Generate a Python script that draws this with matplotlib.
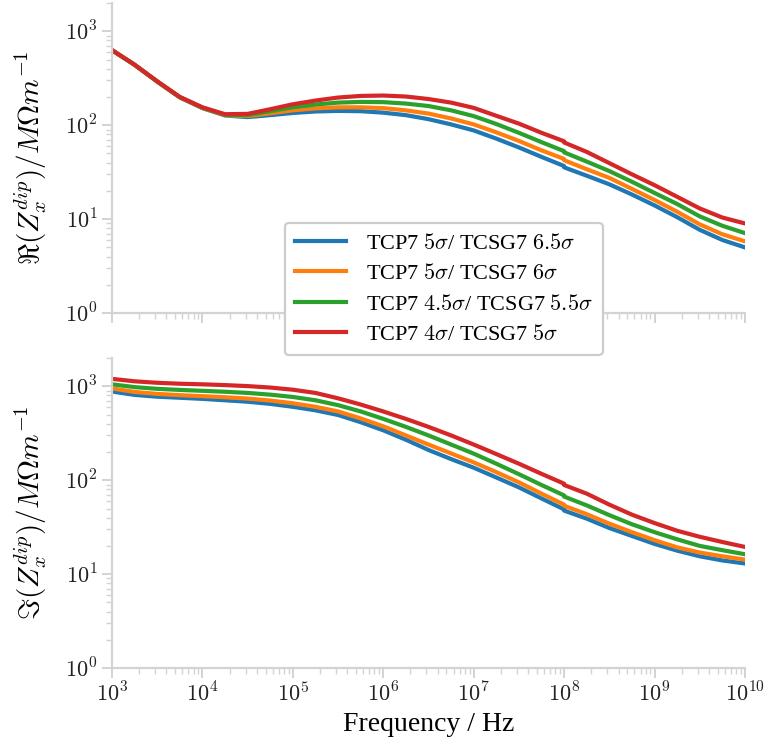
import numpy as np
import matplotlib
matplotlib.use("Agg")
import matplotlib.pyplot as plt
from matplotlib.ticker import FuncFormatter

plt.rcParams['mathtext.fontset'] = 'cm'
plt.rcParams['font.family'] = ['Liberation Serif', 'DejaVu Serif']

# log10 of frequency (Hz); 8.0 appears twice for the small step at 1e8
logf = [3.0, 3.25, 3.5, 3.75, 4.0, 4.25, 4.5, 4.75, 5.0, 5.25, 5.5, 5.75, 6.0,
        6.25, 6.5, 6.75, 7.0, 7.25, 7.5, 7.75, 7.999, 8.0, 8.25, 8.5, 8.75,
        9.0, 9.25, 9.5, 9.75, 10.0]

labels = [r'TCP7 $5\sigma$/ TCSG7 $6.5\sigma$',
          r'TCP7 $5\sigma$/ TCSG7 $6\sigma$',
          r'TCP7 $4.5\sigma$/ TCSG7 $5.5\sigma$',
          r'TCP7 $4\sigma$/ TCSG7 $5\sigma$']
colors = ['#1f77b4', '#ff7f0e', '#2ca02c', '#d62728']

re_blue = [630, 440, 292, 198, 152, 127, 122, 128, 135, 140, 142, 141, 136,
           128, 116, 102, 88, 72, 58, 46, 36.8, 35.6, 29, 23.5, 18.3,
           14.0, 10.5, 7.7, 6.0, 5.0]
re_orange = [630, 440, 292, 198, 153, 128, 125, 134, 144, 151, 155, 155, 152,
             144, 133, 118, 102, 84, 68, 54, 43.8, 42.4, 34, 27.5, 21,
             16.0, 12.0, 8.8, 6.9, 5.8]
re_green = [630, 440, 292, 199, 154, 129, 128, 141, 155, 166, 174, 177, 176,
            170, 160, 144, 125, 103, 83, 66, 53, 51.4, 41, 32.5, 25,
            19.0, 14.5, 10.7, 8.5, 7.1]
re_red = [630, 440, 293, 200, 155, 131, 132, 148, 167, 183, 197, 205, 207,
          202, 190, 174, 153, 126, 104, 83, 67.5, 65.5, 52, 39.5, 30,
          23.0, 17.3, 13.0, 10.4, 9.0]

im_blue = [880, 810, 775, 755, 735, 710, 685, 650, 605, 555, 495, 415, 340,
           270, 210, 168, 136, 107, 84, 64, 49, 47.5, 39, 31, 25.5,
           21, 17.8, 15.5, 14.0, 13.0]
im_orange = [950, 870, 830, 805, 785, 765, 740, 705, 660, 605, 540, 455, 375,
             300, 240, 193, 155, 122, 95, 72, 55, 53.5, 43.5, 34.5, 28,
             23, 19.3, 17.0, 15.5, 14.3]
im_green = [1050, 980, 940, 915, 895, 875, 850, 815, 770, 710, 630, 540, 450,
            370, 300, 240, 192, 150, 116, 89, 69, 67, 54, 42.5, 34,
            28, 23.5, 20.0, 18.0, 16.3]
im_red = [1200, 1130, 1090, 1065, 1050, 1030, 1005, 970, 920, 850, 745, 640, 540,
          450, 370, 300, 240, 190, 150, 117, 92, 89, 72, 55, 43,
          35, 29, 25, 22, 19.5]

re_series = [re_blue, re_orange, re_green, re_red]
im_series = [im_blue, im_orange, im_green, im_red]

freq = 10.0 ** np.array(logf)

fig = plt.figure(figsize=(7.68, 7.49), dpi=100)
ax1 = fig.add_axes([0.1458, 0.582, 0.8242, 0.414])
ax2 = fig.add_axes([0.1458, 0.108, 0.8242, 0.414], sharex=ax1)

spine_col = '#d0d5d0'
pow_fmt = FuncFormatter(lambda v, pos: r'$10^{%d}$' % int(round(np.log10(v))))
for ax, series in ((ax1, re_series), (ax2, im_series)):
    for vals, c, lab in zip(series, colors, labels):
        ax.plot(freq, vals, color=c, lw=3.0, label=lab,
                solid_joinstyle='round')
    ax.set_xscale('log')
    ax.set_yscale('log')
    ax.set_xlim(1e3, 1e10)
    ax.set_ylim(1, 2000)
    ax.xaxis.set_major_formatter(pow_fmt)
    ax.yaxis.set_major_formatter(pow_fmt)
    for s in ('top', 'right'):
        ax.spines[s].set_visible(False)
    for s in ('left', 'bottom'):
        ax.spines[s].set_color(spine_col)
        ax.spines[s].set_linewidth(1.6)
    ax.tick_params(which='major', length=7, width=1.4, color=spine_col,
                   labelsize=16, labelcolor='#222222')
    ax.tick_params(which='minor', length=4, width=1.0, color=spine_col)

ax1.tick_params(labelbottom=False)
ax1.set_ylabel(r'$\Re(Z_x^{dip})/M\Omega m^{-1}$', fontsize=21)
ax2.set_ylabel(r'$\Im(Z_x^{dip})/M\Omega m^{-1}$', fontsize=21)
ax2.set_xlabel('Frequency / Hz', fontsize=20)
ax1.yaxis.set_label_coords(-0.10, 0.5)
ax2.yaxis.set_label_coords(-0.10, 0.5)

handles, labs = ax1.get_legend_handles_labels()
leg = fig.legend(handles, labs, loc='upper left',
                 bbox_to_anchor=(285 / 768, 1 - 223 / 749),
                 borderaxespad=0.0,
                 fontsize=16, frameon=True,
                 fancybox=True, framealpha=1.0, edgecolor='#cccccc',
                 handlelength=2.3, handletextpad=0.9, labelspacing=0.45,
                 borderpad=0.45)
leg.get_frame().set_linewidth(1.6)

fig.savefig('out.png', dpi=100)
